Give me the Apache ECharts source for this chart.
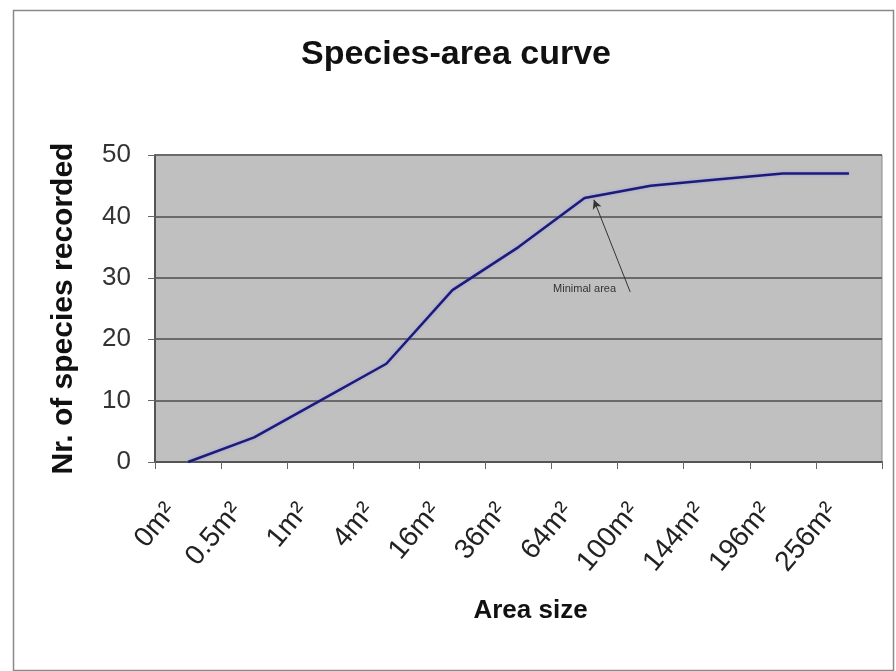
<!DOCTYPE html>
<html>
<head>
<meta charset="utf-8">
<script src="https://cdn.jsdelivr.net/npm/echarts@6/dist/echarts.min.js"></script>
<style>html,body{margin:0;padding:0;background:#fff}#c{width:896px;height:671px}</style>
</head>
<body>
<div id="c"></div>
<script>
const categories = ['0m\u00b2','0.5m\u00b2','1m\u00b2','4m\u00b2','16m\u00b2','36m\u00b2','64m\u00b2','100m\u00b2','144m\u00b2','196m\u00b2','256m\u00b2'];
const species = [0, 4, 10, 16, 28, 35, 43, 45, 46, 47, 47];
const yTicks = [0, 10, 20, 30, 40, 50];
// annotation in axis units (category slot units on hidden value axis, species on y)
const arrowTail = [7.19, 27.7];
const arrowHead = [6.64, 42.7];
const noteText = 'Minimal area';
const notePos = [6.5, 28.2];

const chart = echarts.init(document.getElementById('c'), null, {renderer:'canvas'});
const font = '"Liberation Sans", Arial, sans-serif';
chart.setOption({
  animation: false,
  backgroundColor: '#ffffff',
  title: {
    text: 'Species-area curve',
    left: 296, top: 33,
    textStyle: {fontFamily: font, fontSize: 34, fontWeight: 'bold', color: '#111'}
  },
  graphic: [{
    type: 'rect', left: 11, top: 8, shape: {width: 880, height: 660},
    style: {fill: 'none', stroke: '#8a8a8a', lineWidth: 1.5}, silent: true
  }],
  grid: {
    left: 155, right: 14, top: 155, bottom: 209,
    show: true, backgroundColor: '#c0c0c0', borderColor: '#8a8a8a', borderWidth: 1
  },
  xAxis: [{
    type: 'category', data: categories, boundaryGap: true,
    axisLine: {lineStyle: {color: '#555', width: 2}},
    axisTick: {show: true, length: 7, alignWithLabel: false, lineStyle: {color: '#666'}},
    axisLabel: {rotate: 50, margin: 25, padding: [0, 26, 0, 0], fontFamily: font, fontSize: 28, color: '#222', interval: 0},
    name: 'Area size', nameLocation: 'middle', nameGap: 136,
    nameTextStyle: {fontFamily: font, fontSize: 26, fontWeight: 'bold', color: '#111', padding: [0,0,0,24]},
    splitLine: {show: false}
  }, {
    type: 'value', min: 0, max: 11, show: false
  }],
  yAxis: {
    type: 'value', min: 0, max: 50, interval: 10,
    axisLine: {show: true, lineStyle: {color: '#555', width: 2}},
    axisTick: {show: true, length: 7, lineStyle: {color: '#666'}},
    axisLabel: {margin: 24, fontFamily: font, fontSize: 26, color: '#333',
      formatter: v => yTicks.includes(v) ? String(v) : ''},
    splitLine: {show: true, lineStyle: {color: '#6a6a6a', width: 2}},
    name: 'Nr. of species recorded', nameLocation: 'middle', nameGap: 76,
    nameTextStyle: {fontFamily: font, fontSize: 30, fontWeight: 'bold', color: '#111'}
  },
  series: [{
    type: 'line', data: species, xAxisIndex: 0,
    symbol: 'none', smooth: false,
    lineStyle: {color: '#1c1c78', width: 2.5, shadowColor: 'rgba(120,120,255,0.5)', shadowBlur: 3}
  }, {
    type: 'line', xAxisIndex: 1, data: [], symbol: 'none',
    markLine: {
      silent: true, symbol: ['none', 'arrow'], symbolSize: [7, 9],
      label: {show: false},
      lineStyle: {color: '#333', width: 1, type: 'solid'},
      data: [[{coord: arrowTail}, {coord: arrowHead}]]
    },
    markPoint: {
      silent: true, symbol: 'circle', symbolSize: 0,
      label: {show: true, position: 'inside', formatter: noteText, fontFamily: font, fontSize: 11, color: '#333'},
      data: [{coord: notePos, value: 0}]
    }
  }]
});
</script>
</body>
</html>
